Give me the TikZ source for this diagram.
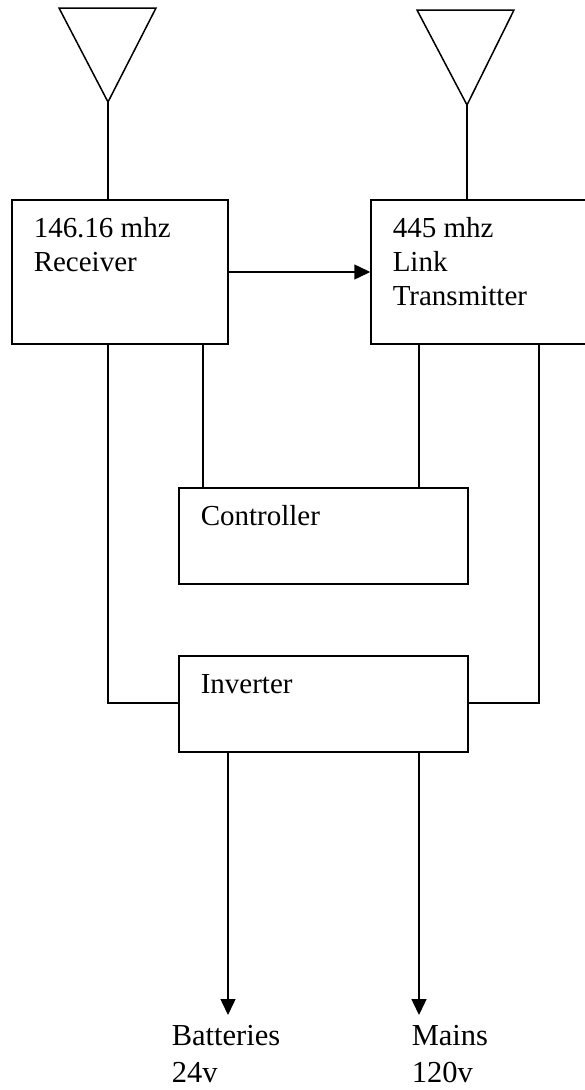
\documentclass[tikz,border=0pt]{standalone}
\usepackage{fontspec}
\setmainfont{Liberation Serif}
\usetikzlibrary{arrows.meta}
\begin{document}
\begin{tikzpicture}[x=1pt,y=-1pt,
  line width=1.5pt,
  blk/.style={draw, line width=1.5pt, inner sep=0pt},
  lbl/.style={anchor=base west, inner sep=0pt, font=\fontsize{29}{34}\selectfont},
  blbl/.style={anchor=base west, inner sep=0pt, font=\fontsize{30.5}{36}\selectfont},
  wire/.style={draw, line width=1.5pt},
  arr/.style={draw, line width=1.5pt, -{Triangle[length=16pt,width=15pt]}}
]
\useasboundingbox (0,0) rectangle (584,1090);
% antennas
\coordinate (lapex) at (108,102);
\coordinate (rapex) at (467,105);
\draw[line width=1.5pt, line join=miter] (59,8) -- (156,8) -- (lapex) -- cycle;
\draw[line width=1.5pt, line join=miter] (417,10) -- (514,10) -- (rapex) -- cycle;
% boxes
\node[blk, minimum width=216pt, minimum height=144pt] (rx) at (120,272) {};
\node[blk, minimum width=220pt, minimum height=144pt] (tx) at (481,272) {};
\node[blk, minimum width=289pt, minimum height=96pt] (ctl) at (323.5,536) {};
\node[blk, minimum width=289pt, minimum height=96pt] (inv) at (323.5,704) {};
% labels
\node[lbl] (rx1) at (33,237) {146.16 mhz};
\node[lbl] (rx2) at (33,271) {Receiver};
\node[lbl] (tx1) at (392,237) {445 mhz};
\node[lbl] (tx2) at (392,271) {Link};
\node[lbl] (tx3) at (392,305) {Transmitter};
\node[lbl] (ctlt) at (200,525) {Controller};
\node[lbl] (invt) at (200,693) {Inverter};
\node[blbl] (bat1) at (171,1045) {Batteries};
\node[blbl] (bat2) at (171,1082) {24v};
\node[blbl] (mai1) at (411,1045) {Mains};
\node[blbl] (mai2) at (411,1082) {120v};
% antenna stems
\draw[wire] (lapex) -- (lapex |- rx.north);
\draw[wire] (rapex) -- (rapex |- tx.north);
% receiver to transmitter
\draw[arr] (rx.east |- 0,272) -- (tx.west |- 0,272);
% to controller
\draw[wire] (203,344) -- (203,488);
\draw[wire] (419,344) -- (419,488);
% to inverter
\draw[wire] (108,344) -- (108,703) -- (inv.west |- 0,703);
\draw[wire] (539,344) -- (539,703) -- (inv.east |- 0,703);
% outputs
\coordinate (batc) at (228,1015);
\coordinate (maic) at (419,1015);
\draw[arr] (228,752) -- (batc);
\draw[arr] (419,752) -- (maic);
\end{tikzpicture}
\end{document}
